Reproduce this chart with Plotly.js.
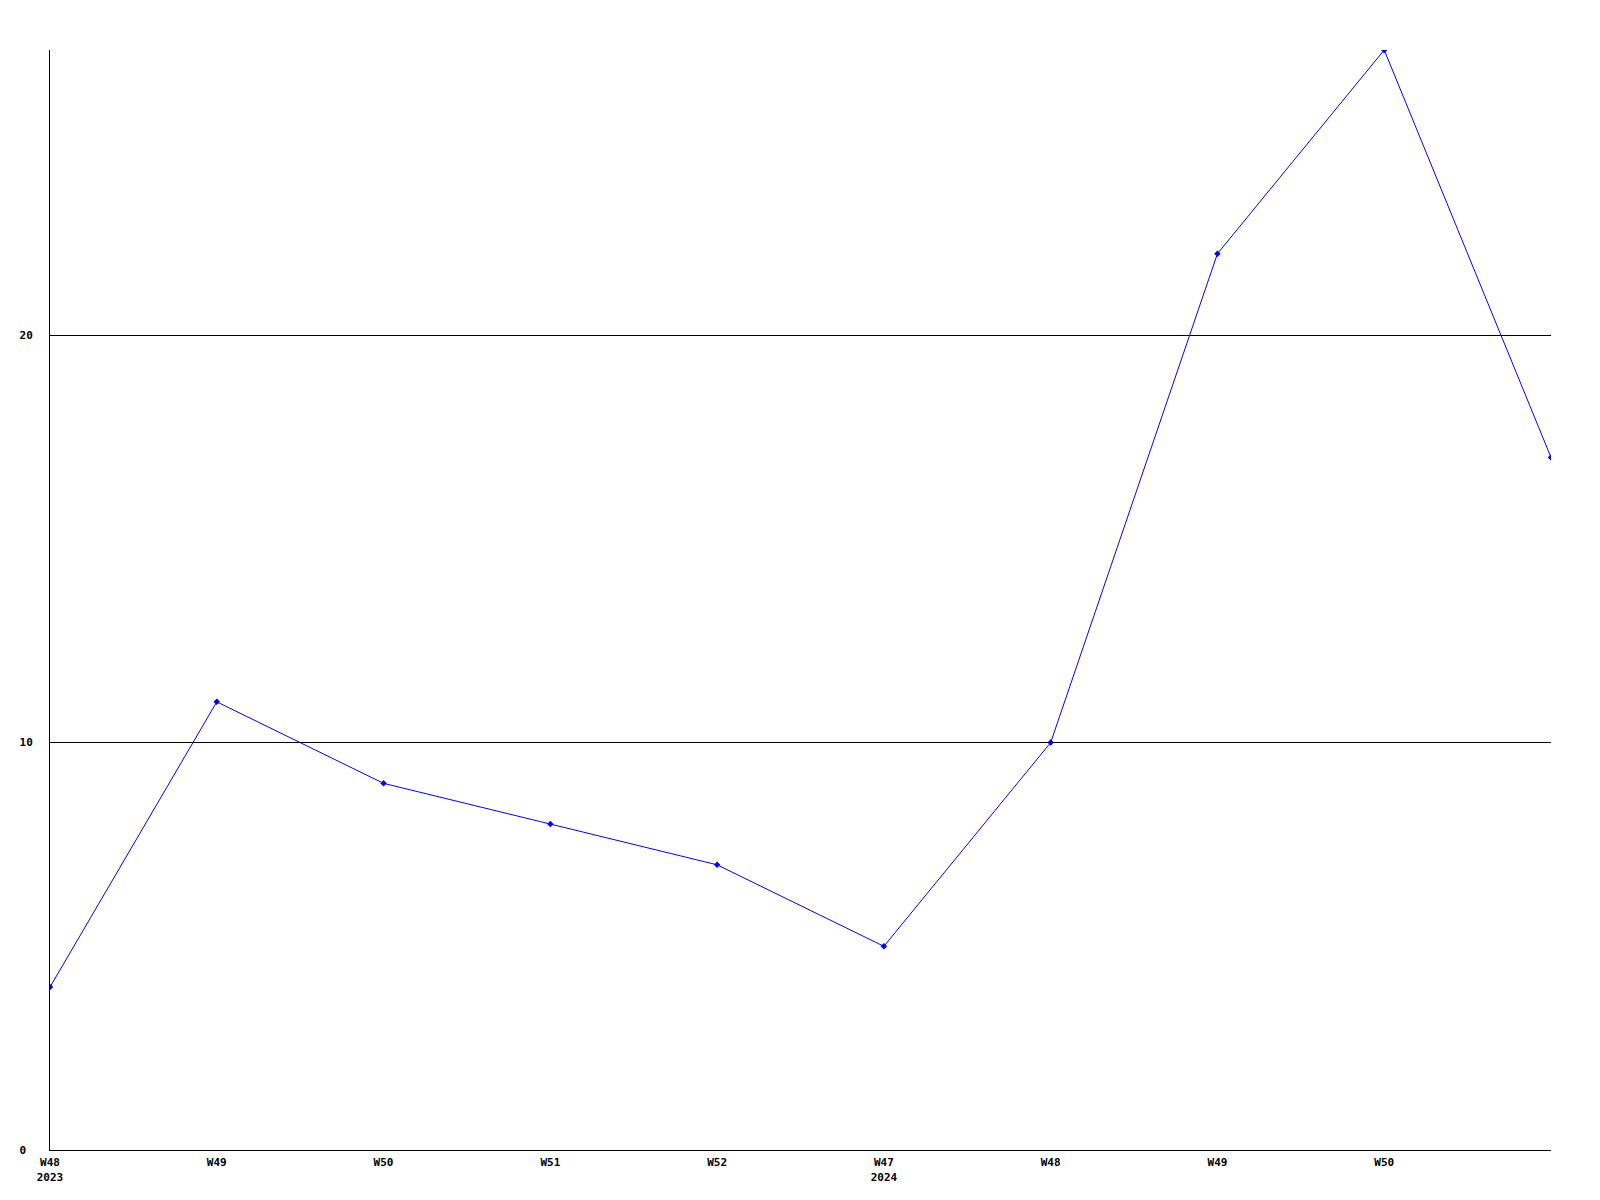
<!DOCTYPE html>
<html>
<head>
<meta charset="utf-8">
<script src="https://cdn.plot.ly/plotly-3.0.1.min.js"></script>
<style>
  html, body { margin: 0; padding: 0; background: #fff; }
  #chart { width: 1600px; height: 1200px; }
</style>
</head>
<body>
<div id="chart"></div>
<script>
// Data
const weeks = ["W48", "W49", "W50", "W51", "W52", "W47", "W48", "W49", "W50", "W51"];
const years = ["2023", "", "", "", "", "2024", "", "", "", ""];
const values = [4, 11, 9, 8, 7, 5, 10, 22, 27, 17];
const showLabel = [true, true, true, true, true, true, true, true, true, false];
const yTicks = [0, 10, 20];
const yTickText = ["0\u00a0", "10", "20"];

const xIdx = weeks.map((_, i) => i);
const tickText = weeks.map((w, i) => !showLabel[i] ? "" : (years[i] ? w + "<br>" + years[i] : w));

const font = { family: "DejaVu Sans Mono, Liberation Mono, monospace", size: 11, color: "#000", weight: "bold" };

Plotly.newPlot("chart", [{
  x: xIdx,
  y: values,
  type: "scatter",
  mode: "lines+markers",
  line: { color: "#0000ff", width: 1 },
  marker: { color: "#0000ff", size: 5, symbol: "diamond" },
  hoverinfo: "none"
}], {
  width: 1600,
  height: 1200,
  margin: { l: 50, r: 49, t: 50, b: 50 },
  paper_bgcolor: "#fff",
  plot_bgcolor: "#fff",
  showlegend: false,
  xaxis: {
    range: [0, 9],
    tickvals: xIdx,
    ticktext: tickText,
    showgrid: false,
    zeroline: false,
    showline: true,
    linecolor: "#000",
    linewidth: 1,
    ticks: "",
    ticklabelstandoff: 2,
    tickfont: font
  },
  yaxis: {
    range: [0, 27],
    tickvals: yTicks,
    ticktext: yTickText,
    showgrid: true,
    gridcolor: "#000",
    gridwidth: 1,
    zeroline: false,
    showline: true,
    linecolor: "#000",
    linewidth: 1,
    ticks: "",
    ticklabelstandoff: 14,
    tickfont: font
  }
}, { staticPlot: true });
</script>
</body>
</html>
